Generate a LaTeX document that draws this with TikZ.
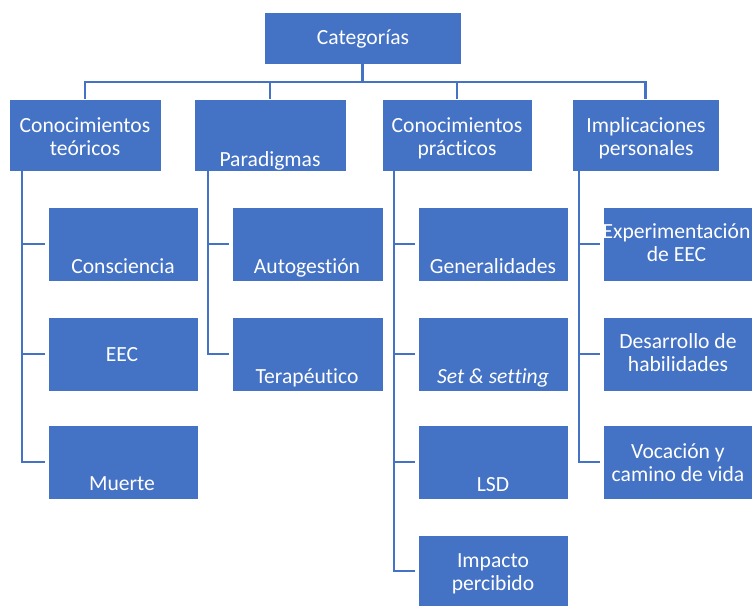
\documentclass[tikz,border=0pt]{standalone}
\usepackage{fontspec}
\setmainfont{Carlito}[Ligatures=NoCommon]
\definecolor{offblue}{HTML}{4472C4}
\newcommand{\twolines}[2]{\begin{tabular}[t]{@{}c@{}}#1\\#2\end{tabular}}
\begin{document}
\begin{tikzpicture}[x=1pt,y=-1pt,
  box/.style={fill=offblue, draw=white, line width=0.6pt, inner sep=0pt, minimum height=74pt, minimum width=150pt},
  topbox/.style={box, minimum height=72pt},
  txt/.style={text=white, inner sep=0pt, anchor=base, font=\fontsize{21.6}{23.5}\selectfont},
  conn/.style={draw=offblue, line width=2.2pt}]
\useasboundingbox (0,0) rectangle (754,605);
% boxes
\node[box, minimum width=197pt, minimum height=52pt] (cat) at (362.5,38) {};
\node[topbox, minimum width=152pt] (teo) at (85,135) {};
\node[topbox, minimum width=152pt] (par) at (270,135) {};
\node[topbox, minimum width=150pt] (pra) at (457,135) {};
\node[topbox, minimum width=147pt] (imp) at (645.5,135) {};
\node[box] (con) at (123,244) {};
\node[box] (eec) at (123,354) {};
\node[box] (mue) at (123,462) {};
\node[box, minimum width=151pt] (aut) at (307.5,244) {};
\node[box, minimum width=151pt] (ter) at (307.5,354) {};
\node[box] (gen) at (493,244) {};
\node[box] (set) at (493,354) {};
\node[box] (lsd) at (493,462) {};
\node[box, minimum height=72pt] (imc) at (493,571) {};
\node[box, minimum width=149pt] (exp) at (677.5,244) {};
\node[box, minimum width=149pt] (des) at (677.5,354) {};
\node[box, minimum width=149pt] (voc) at (677.5,462) {};
% texts
\node[txt] (tcat) at (363,44) {Categorías};
\node[txt] (tteo) at (85,132) {\twolines{Conocimientos}{teóricos}};
\node[txt] (tpar) at (270,166) {Paradigmas};
\node[txt] (tpra) at (457,132) {\twolines{Conocimientos}{prácticos}};
\node[txt] (timp) at (646,132) {\twolines{Implicaciones}{personales}};
\node[txt] (tcon) at (123,273) {Consciencia};
\node[txt] (teec) at (122,361) {EEC};
\node[txt] (tmue) at (122,490) {Muerte};
\node[txt] (taut) at (307,273) {Autogestión};
\node[txt] (tter) at (307,383) {Terapéutico};
\node[txt] (tgen) at (493,273) {Generalidades};
\node[txt] (tset) at (493,383) {\textit{Set \& setting}};
\node[txt] (tlsd) at (493,491) {LSD};
\node[txt] (timc) at (493,567) {\twolines{Impacto}{percibido}};
\node[txt] (texp) at (676.5,238) {\twolines{Experimentación}{de EEC}};
\node[txt] (tdes) at (678,348) {\twolines{Desarrollo de}{habilidades}};
\node[txt] (tvoc) at (678,458) {\twolines{Vocación y}{camino de vida}};
% top connectors
\coordinate (bus) at (362.5,82);
\draw[conn] (cat.south) -- (bus);
\draw[conn] (teo.north) -- (teo.north |- bus) -- (imp.north |- bus) -- (imp.north);
\draw[conn] (par.north) -- (par.north |- bus);
\draw[conn] (pra.north) -- (pra.north |- bus);
% side connectors
\coordinate (tt) at ([xshift=13pt]teo.south west);
\coordinate (pt) at ([xshift=14pt]par.south west);
\coordinate (rt) at ([xshift=12pt]pra.south west);
\coordinate (it) at ([xshift=7pt]imp.south west);
\foreach \c in {con,eec,mue} \draw[conn, shorten >=3pt] (tt) |- (\c.west);
\foreach \c in {aut,ter} \draw[conn, shorten >=3pt] (pt) |- (\c.west);
\foreach \c in {gen,set,lsd,imc} \draw[conn, shorten >=3pt] (rt) |- (\c.west);
\foreach \c in {exp,des,voc} \draw[conn, shorten >=3pt] (it) |- (\c.west);
\end{tikzpicture}
\end{document}
